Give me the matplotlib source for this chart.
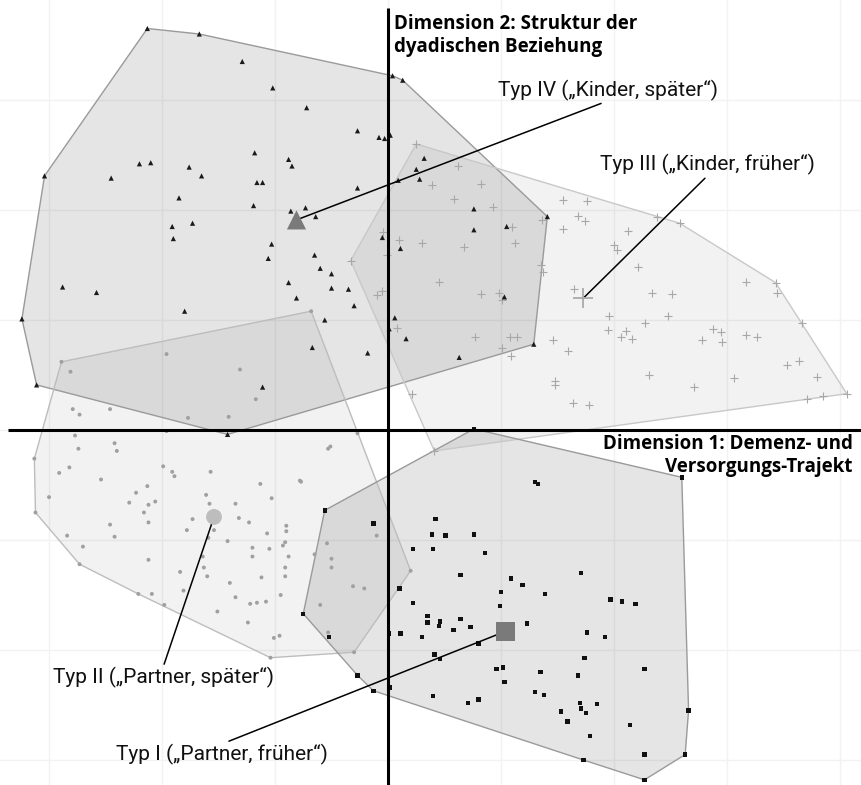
import numpy as np
import matplotlib.pyplot as plt
from matplotlib.patches import Polygon
import matplotlib

matplotlib.rcParams['font.family'] = ['Roboto', 'DejaVu Sans']

# Typ IV ("Kinder, später") - Dreiecke
t4_x = [-2.13, -1.67, -1.29, -1.02, -1.18, -0.88, -0.85, -2.20, -2.10, -1.76, -1.65, -2.45,
        -3.04, -1.16, -1.11, -1.85, -1.19, -0.86, -1.91, -1.73, -1.90, -1.03, -1.06, 0.04,
        0.13, -0.72, -0.27, -0.08, -0.03, 0.02, 0.32, 0.25, 0.28, 0.09, -0.27, -0.73,
        -0.64, 0.76, 1.41, 0.76, 1.05, -0.05, 0.11, -0.65, -0.60, -0.50, -0.50, -0.35,
        -0.30, -0.56, -0.67, -0.18, 0.06, 0.16, 0.63, 1.03, 1.29, -2.88, -2.58, -1.80,
        -0.88, -0.81, -3.24, -3.11, -1.11, -1.42, 0.01]
t4_y = [3.65, 3.60, 3.35, 3.11, 2.52, 2.46, 2.40, 2.42, 2.43, 2.39, 2.31, 2.29,
        2.31, 2.25, 2.25, 2.11, 2.04, 1.99, 1.85, 1.88, 1.74, 1.69, 1.56, 3.22,
        3.18, 2.93, 2.72, 2.66, 2.65, 2.68, 2.47, 2.37, 2.28, 2.27, 2.20, 2.02,
        1.94, 2.01, 1.94, 1.82, 1.85, 1.75, 1.65, 1.59, 1.47, 1.42, 1.29, 1.28,
        1.13, 1.00, 0.75, 0.70, 1.02, 0.83, 0.66, 1.21, 0.78, 1.30, 1.25, 1.08,
        1.34, 1.20, 1.01, 0.41, 0.39, -0.04, 0.92]

# Typ III ("Kinder, früher") - Kreuze
t3_x = [0.25, 0.62, 0.39, 0.82, 0.58, 0.93, 1.55, 1.68, 1.55, 1.36, 1.12, 0.67,
        1.10, 0.10, 0.30, -0.04, -0.33, -0.01, 1.76, 1.74, 2.12, 2.00, 2.03, 2.21,
        2.38, 2.58, 1.65, 3.17, 3.43, 3.44, 2.34, 2.51, 1.96, 2.48, 2.27, 3.66,
        1.95, 2.11, 2.06, 2.16, 2.88, 2.95, 2.78, 2.96, 3.17, 3.27, 1.59, 3.64,
        3.53, 2.31, 3.06, 3.80, 2.71, 4.06, 3.85, 3.71, 1.64, 1.78, -0.10, -0.05,
        0.08, 0.45, 0.82, 0.98, 1.01, 1.35, 1.37, 0.77, 1.08, 1.14, 1.01, 1.09,
        1.46, 1.48, 1.48, 0.21, 0.41]
t3_y = [2.60, 2.40, 2.23, 2.24, 2.10, 2.03, 2.09, 1.95, 1.83, 1.91, 1.70, 1.66,
        1.85, 1.73, 1.70, 1.80, 1.54, 1.59, 2.08, 1.90, 1.81, 1.68, 1.64, 1.48,
        1.94, 1.88, 1.28, 1.35, 1.34, 1.25, 1.25, 1.24, 1.04, 1.04, 0.97, 0.97,
        0.91, 0.90, 0.85, 0.83, 0.92, 0.89, 0.82, 0.80, 0.86, 0.85, 0.72, 0.63,
        0.59, 0.50, 0.47, 0.48, 0.39, 0.33, 0.31, 0.28, 0.25, 0.23, 1.23, 1.26,
        0.93, 1.35, 1.24, 1.25, 1.18, 1.50, 1.44, 0.85, 0.85, 0.85, 0.75, 0.67,
        0.82, 0.45, 0.41, 0.33, -0.19]

# Typ II ("Partner, später") - Punkte
t2_x = [-2.89, -2.81, -1.96, -1.31, -1.17, -1.77, -1.41, -2.79, -2.73, -2.46, -1.96, -2.77,
        -2.74, -2.42, -2.40, -3.13, -2.82, -2.91, -2.54, -1.99, -1.91, -1.89, -1.57, -1.13,
        -0.78, -2.13, -2.23, -3.00, -1.61, -1.03, -2.06, -2.29, -2.12, -1.58, -1.35, -3.12,
        -2.16, -1.73, -1.32, -0.68, -0.27, -0.51, -0.53, -0.77, -2.46, -2.12, -1.23, -0.90,
        -0.90, -2.84, -2.42, -1.78, -1.54, -1.59, -1.07, -1.42, -0.91, -2.70, -1.20, -1.05,
        -1.20, -0.88, -1.64, -2.12, -0.91, -1.63, -1.84, -1.60, -1.12, -0.91, -1.40, -1.81,
        -1.35, -0.95, -1.22, -1.16, -1.08, -1.51, -1.24, -1.01, -0.96, -0.93, -0.54, -0.65,
        -0.50, -0.50, -0.10, -0.31, -0.21, -0.60, -0.53, 0.20, -0.30, -2.73, -1.04, -1.98,
        -2.09, -2.21]
t2_y = [0.62, 0.53, 0.69, 0.55, 0.28, 0.11, 0.12, 0.19, 0.14, 0.19, -0.01, -0.05,
        -0.17, -0.12, -0.19, -0.26, -0.34, -0.39, -0.45, -0.33, -0.38, -0.42, -0.38, -0.49,
        -0.46, -0.51, -0.57, -0.61, -0.59, -0.62, -0.65, -0.66, -0.68, -0.67, -0.67, -0.75,
        -0.75, -0.81, -0.80, 1.08, -0.03, -0.15, -0.17, -0.47, -0.86, -0.84, -0.84, -0.87,
        -0.92, -0.96, -0.97, -0.91, -0.91, -0.98, -0.94, -1.01, -1.02, -1.06, -1.07, -1.08,
        -1.15, -1.15, -1.15, -1.18, -1.25, -1.25, -1.29, -1.33, -1.34, -1.33, -1.39, -1.46,
        -1.52, -1.50, -1.58, -1.57, -1.56, -1.65, -1.75, -1.89, -1.87, -1.05, -1.03, -1.13,
        -1.17, -1.25, -0.96, -1.42, -1.44, -1.59, -1.84, -1.28, -2.02, -1.22, -2.07, -1.59,
        -1.49, -1.49]

# Typ I ("Partner, früher") - Quadrate
t1_x = [0.76, 1.30, 1.33, -0.56, 0.42, 2.60, 1.71, 1.97, 2.07, 2.19, 1.76, 1.92,
        1.74, 2.27, 1.68, 1.70, 1.71, 1.85, 1.75, 1.53, 1.59, 2.14, 1.79, 2.27,
        2.66, 2.63, 2.27, 1.73, -0.13, 0.39, 0.51, 0.76, 0.22, 0.40, 0.86, 0.64,
        1.09, 1.19, 1.00, 1.39, 0.10, 0.22, 0.99, 0.35, 0.35, 0.46, 0.45, 0.64,
        0.58, 0.73, 1.23, 0.01, 0.11, 0.30, 0.80, -0.52, 0.41, 0.46, 0.96, 1.02,
        1.35, 1.03, -0.27, -0.13, 0.02, 0.40, 1.30, 1.38, 0.80, 0.71, -0.75]
t1_y = [0.01, -0.47, -0.49, -0.73, -0.81, -0.43, -1.30, -1.54, -1.56, -1.58, -1.84, -1.88,
        -2.07, -2.17, -2.23, -2.48, -2.53, -2.49, -2.57, -2.56, -2.65, -2.68, -2.78, -2.95,
        -2.55, -2.95, -3.18, -3.00, -0.85, -0.95, -0.96, -0.95, -1.08, -1.08, -1.12, -1.32,
        -1.35, -1.41, -1.47, -1.49, -1.44, -1.57, -1.60, -1.69, -1.75, -1.74, -1.78, -1.72,
        -1.82, -1.79, -1.76, -1.85, -1.85, -1.88, -1.94, -1.88, -2.04, -2.08, -2.17, -2.16,
        -2.20, -2.29, -2.23, -2.37, -2.34, -2.42, -2.38, -2.41, -2.45, -2.48, -1.67]

# Typ-Zentren
centers = {
    'IV': (-0.81, 1.91),
    'III': (1.73, 1.20),
    'II': (-1.54, -0.79),
    'I': (1.04, -1.83),
}

labels = {
    'IV': 'Typ IV (\u201eKinder, später\u201c)',
    'III': 'Typ III (\u201eKinder, früher\u201c)',
    'II': 'Typ II (\u201ePartner, später\u201c)',
    'I': 'Typ I (\u201ePartner, früher\u201c)',
}
label_pos = {
    'IV': (1.95, 3.09),
    'III': (2.83, 2.41),
    'II': (-1.99, -2.25),
    'I': (-1.47, -2.95),
}

dim1_label = 'Dimension 1: Demenz- und\nVersorgungs-Trajekt'
dim2_label = 'Dimension 2: Struktur der\ndyadischen Beziehung'


def convex_hull(xs, ys):
    pts = sorted(set(zip(xs, ys)))

    def cross(o, a, b):
        return (a[0] - o[0]) * (b[1] - o[1]) - (a[1] - o[1]) * (b[0] - o[0])

    lower, upper = [], []
    for p in pts:
        while len(lower) >= 2 and cross(lower[-2], lower[-1], p) <= 0:
            lower.pop()
        lower.append(p)
    for p in reversed(pts):
        while len(upper) >= 2 and cross(upper[-2], upper[-1], p) <= 0:
            upper.pop()
        upper.append(p)
    return np.array(lower[:-1] + upper[:-1])


fig = plt.figure(figsize=(8.61, 7.85), dpi=100)
ax = fig.add_axes([0, 0, 1, 1])
ax.set_xlim(-3.434, 4.186)
ax.set_ylim(-3.227, 3.909)
for s in ax.spines.values():
    s.set_visible(False)
ax.set_xticks(range(-3, 5))
ax.set_yticks(range(-3, 4))
ax.tick_params(length=0, labelbottom=False, labelleft=False)
ax.grid(True, color='#f2f2f2', lw=1)
ax.set_axisbelow(True)

# Hüllen
groups = [
    (t4_x, t4_y, 0.10, '#9a9a9a'),
    (t3_x, t3_y, 0.05, '#c8c8c8'),
    (t2_x, t2_y, 0.05, '#bdbdbd'),
    (t1_x, t1_y, 0.10, '#9a9a9a'),
]
for xs, ys, a, ec in groups:
    hull = convex_hull(xs, ys)
    ax.add_patch(Polygon(hull, closed=True, facecolor=(0, 0, 0, a), edgecolor='none', zorder=1))
    ax.add_patch(Polygon(hull, closed=True, fill=False, edgecolor=ec, lw=1, zorder=2))

# Einzelfälle
ax.scatter(t3_x, t3_y, marker='+', s=28, c='#a8a8a8', linewidths=0.8, zorder=3)
ax.scatter(t2_x, t2_y, marker='o', s=8, c='#a0a0a0', edgecolors='none', zorder=3)
ax.scatter(t4_x, t4_y, marker='^', s=14, c='#1a1a1a', edgecolors='none', zorder=3)
ax.scatter(t1_x, t1_y, marker='s', s=10, c='#111111', edgecolors='none', zorder=3)

# Achsen durch den Ursprung
ax.vlines(0, -3.3, 3.84, colors='black', lw=2.2, zorder=4)
ax.hlines(0, -3.36, 4.3, colors='black', lw=2.2, zorder=4)

# Beschriftungen mit Verbindungslinien
for key in ['IV', 'III', 'II', 'I']:
    rel = (0.5, 0) if key in ('IV', 'III') else (0.5, 1)
    ax.annotate(labels[key], xy=centers[key], xytext=label_pos[key],
                ha='center', va='center', fontsize=15, color='#111111',
                arrowprops=dict(arrowstyle='-', color='black', lw=1.1,
                                shrinkA=0, shrinkB=0, relpos=rel),
                zorder=5)

# Typ-Zentren
ax.scatter(*centers['IV'], marker='^', s=190, c='#7a7a7a', edgecolors='none', zorder=6)
ax.scatter(*centers['III'], marker='+', s=220, c='#aaaaaa', linewidths=1.3, zorder=6)
ax.scatter(*centers['II'], marker='o', s=130, c='#bdbdbd', edgecolors='none', zorder=6)
ax.scatter(*centers['I'], marker='s', s=180, c='#7a7a7a', edgecolors='none', zorder=6)

ax.text(0.05, 3.59, dim2_label, ha='left', va='center', fontsize=13.5,
        fontweight='bold', family=['Open Sans', 'DejaVu Sans'],
        linespacing=1.2, zorder=7)
ax.text(4.11, -0.23, dim1_label, ha='right', va='center', fontsize=13.5,
        fontweight='bold', family=['Open Sans', 'DejaVu Sans'],
        linespacing=1.2, multialignment='right', zorder=7)

fig.savefig('out.png', dpi=100)
